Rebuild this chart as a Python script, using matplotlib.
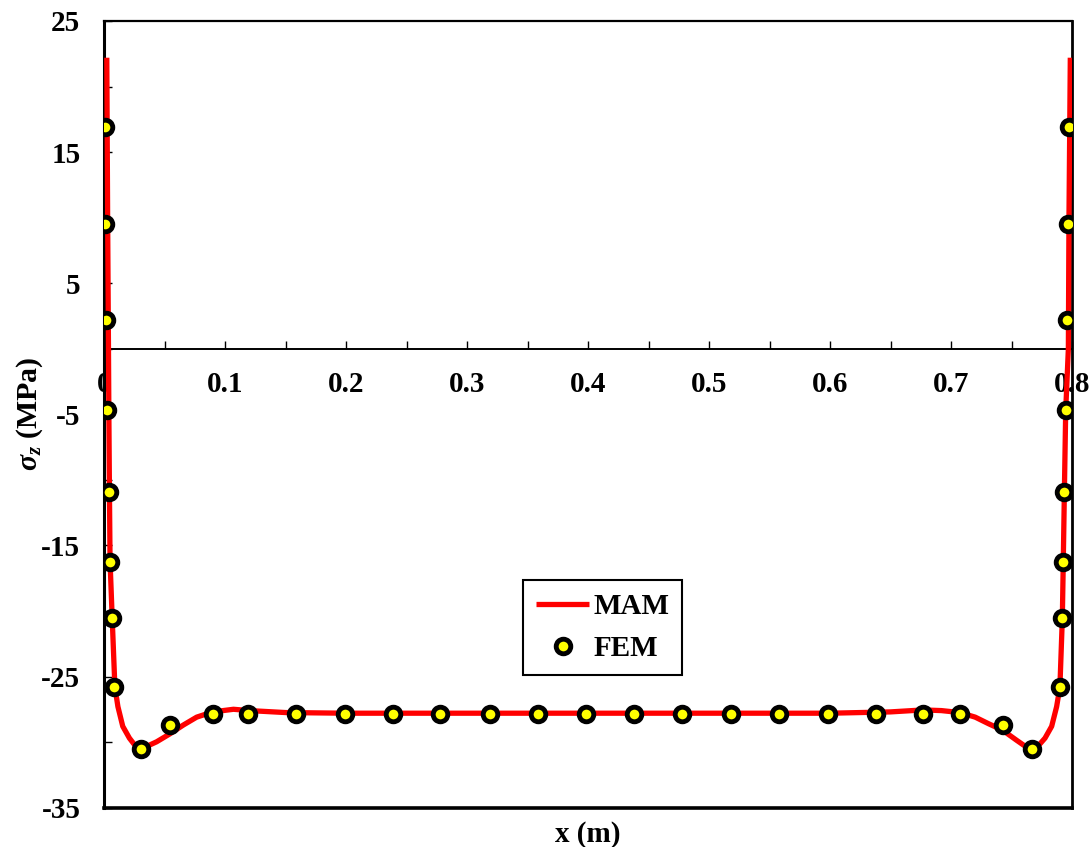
import matplotlib
matplotlib.use('Agg')
import matplotlib.pyplot as plt
from matplotlib.lines import Line2D

# ---------------- data ----------------
mam_x = [0.0023, 0.0030, 0.0037, 0.0040, 0.0045, 0.0050, 0.0068, 0.0090, 0.0115, 0.0155,
         0.0210, 0.0260, 0.0306, 0.0360, 0.0435, 0.0540, 0.0656, 0.0766, 0.0898, 0.1070,
         0.1200, 0.1500, 0.2000, 0.4000, 0.6000, 0.6500, 0.6770, 0.6920, 0.7074, 0.7200,
         0.7310, 0.7427, 0.7540, 0.7610, 0.7667, 0.7720, 0.7777, 0.7832, 0.7873, 0.7900,
         0.7920, 0.7928, 0.7937, 0.7948, 0.7970, 0.7975, 0.7986]
mam_y = [22.2, 10.0, 0.0, -4.7, -10.9, -16.2, -20.6, -25.8, -27.3, -28.8,
         -29.7, -30.3, -30.56, -30.3, -29.98, -29.4, -28.7, -28.1, -27.7, -27.5,
         -27.6, -27.75, -27.8, -27.8, -27.8, -27.7, -27.55, -27.6, -27.75, -28.1,
         -28.6, -29.1, -29.85, -30.3, -30.56, -30.3, -29.7, -28.8, -27.3, -25.8,
         -20.6, -16.2, -10.9, -4.7, 0.0, 10.0, 22.2]

fem_x = [0.0005, 0.0010, 0.0015, 0.0028, 0.0038, 0.0046, 0.0066, 0.0080,
         0.0306, 0.0545, 0.0900,
         0.119, 0.159, 0.199, 0.239, 0.278, 0.319, 0.359, 0.398, 0.438, 0.478,
         0.518, 0.558, 0.598, 0.638, 0.677,
         0.7074, 0.7427, 0.7667,
         0.7900, 0.7915, 0.7926, 0.7932, 0.7948, 0.7960, 0.7965, 0.7975]
fem_y = [16.9, 9.5, 2.2, -4.7, -10.9, -16.25, -20.55, -25.8,
         -30.55, -28.7, -27.86,
         -27.86, -27.86, -27.86, -27.86, -27.86, -27.86, -27.86, -27.86, -27.86, -27.86,
         -27.86, -27.86, -27.86, -27.86, -27.86,
         -27.86, -28.7, -30.55,
         -25.8, -20.55, -16.25, -10.9, -4.7, 2.2, 9.5, 16.9]

x_ticks = [0, 0.1, 0.2, 0.3, 0.4, 0.5, 0.6, 0.7, 0.8]
x_tick_labels = ['0', '0.1', '0.2', '0.3', '0.4', '0.5', '0.6', '0.7', '0.8']
x_minor_ticks = [0.05, 0.15, 0.25, 0.35, 0.45, 0.55, 0.65, 0.75]
y_ticks = [-35, -25, -15, -5, 5, 15, 25]
y_tick_labels = ['-35', '-25', '-15', '-5', '5', '15', '25']
y_minor_ticks = [-30, -20, -10, 0, 10, 20]

# ---------------- style ----------------
plt.rcParams['font.family'] = ['Liberation Serif', 'DejaVu Serif']
plt.rcParams['font.weight'] = 'bold'
plt.rcParams['mathtext.fontset'] = 'custom'
plt.rcParams['mathtext.it'] = 'Liberation Serif:italic:bold'
plt.rcParams['mathtext.rm'] = 'Liberation Serif:bold'
plt.rcParams['mathtext.bf'] = 'Liberation Serif:bold'

FS = 21

fig = plt.figure(figsize=(10.91, 8.47), dpi=100)
ax = fig.add_axes([104 / 1091, 1 - 807.6 / 847, 968 / 1091, 786.6 / 847])

ax.plot(mam_x, mam_y, color='#ff0000', lw=3.8, solid_capstyle='butt',
        solid_joinstyle='round', label='MAM', zorder=3)
ax.plot(fem_x, fem_y, linestyle='none', marker='o', markersize=10.5,
        markerfacecolor='#ffff00', markeredgecolor='black', markeredgewidth=3.5,
        label='FEM', zorder=4)

ax.set_xlim(0, 0.8)
ax.set_ylim(-35, 25)

# zero axis (x axis crossing at y = 0)
ax.spines['bottom'].set_position(('data', 0))
ax.spines['bottom'].set_bounds(0, 0.8)
ax.spines['bottom'].set_linewidth(1.4)
ax.spines['left'].set_linewidth(2.2)
ax.spines['top'].set_linewidth(1.6)
ax.spines['right'].set_linewidth(2.0)
# bottom frame edge of the plot area
ax.add_line(Line2D([0, 1], [0, 0], transform=ax.transAxes, color='black',
                   lw=2.6, clip_on=False, zorder=5))

ax.set_xticks(x_ticks)
ax.set_xticklabels(x_tick_labels)
ax.set_xticks(x_minor_ticks, minor=True)
ax.set_yticks(y_ticks)
ax.set_yticklabels(y_tick_labels)
ax.set_yticks(y_minor_ticks, minor=True)

ax.tick_params(axis='both', which='both', direction='in', length=5.5, width=1.0,
               labelsize=FS)
ax.tick_params(axis='x', which='both', pad=16, top=False)
ax.tick_params(axis='y', which='both', pad=17, right=False)
for lab in ax.get_xticklabels() + ax.get_yticklabels():
    lab.set_fontweight('bold')

ax.set_xlabel('x (m)', fontsize=FS, fontweight='bold')
ax.xaxis.set_label_coords(0.5, -0.017)
ax.set_ylabel(r'$\sigma_z$ (MPa)', fontsize=FS + 0.5, fontweight='bold')
ax.yaxis.set_label_coords(-0.061, 0.5)

leg = ax.legend(loc='upper left', bbox_to_anchor=(0.433, 0.289), borderaxespad=0,
                frameon=True, fancybox=False, framealpha=1,
                edgecolor='black', handlelength=1.8, handletextpad=0.15,
                labelspacing=0.5, borderpad=0.45,
                prop={'weight': 'bold', 'size': FS})
leg.get_frame().set_linewidth(1.5)

fig.savefig('out.png', dpi=100)
